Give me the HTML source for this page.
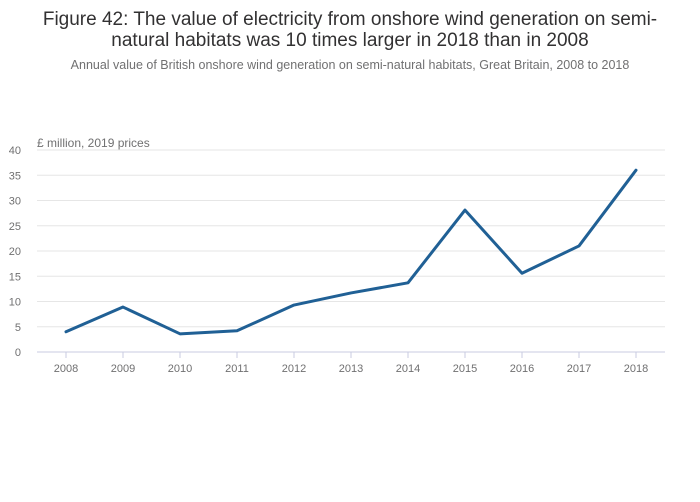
<!DOCTYPE html>
<html><head><meta charset="utf-8"><style>
body{margin:0;background:#fff;font-family:"Liberation Sans",sans-serif;}
svg{display:block}
</style></head><body>
<svg width="700" height="502">
<text x="350" y="25" text-anchor="middle" font-size="19" fill="#323132">Figure 42: The value of electricity from onshore wind generation on semi-</text>
<text x="350" y="46" text-anchor="middle" font-size="19" fill="#323132">natural habitats was 10 times larger in 2018 than in 2008</text>
<text x="350" y="69" text-anchor="middle" font-size="12.5" fill="#707071">Annual value of British onshore wind generation on semi-natural habitats, Great Britain, 2008 to 2018</text>
<text x="37" y="147" font-size="12" fill="#707071">£ million, 2019 prices</text>
<g id="grid"></g><g id="plot"></g>
</svg>
<script>
const years=["2008","2009","2010","2011","2012","2013","2014","2015","2016","2017","2018"];
const values=[4,8.9,3.6,4.2,9.3,11.7,13.7,28.1,15.6,21,36];
const yTicks=[0,5,10,15,20,25,30,35,40];
const NS="http://www.w3.org/2000/svg";
const x=i=>66+i*57, y=v=>352-v*5.05;
const g=document.getElementById('grid'), p=document.getElementById('plot');
function mk(tag,attrs,parent){const e=document.createElementNS(NS,tag);for(const k in attrs)e.setAttribute(k,attrs[k]);parent.appendChild(e);return e;}
yTicks.forEach(t=>{
 const l=mk('line',{x1:37,x2:665,y1:y(t),y2:y(t),stroke:t===0?'#c8cbe0':'#e6e6e6','stroke-width':1},g);
 
 
 const tx=mk('text',{x:21,y:y(t)+4,'text-anchor':'end','font-size':11,fill:'#707071'},g);
 tx.textContent=t;
 
 
});
years.forEach((yr,i)=>{
 const tk=mk('line',{x1:x(i),x2:x(i),y1:352,y2:358,stroke:'#c8cbe0'},g);
 
 
 const tx=mk('text',{x:x(i),y:372,'text-anchor':'middle','font-size':11,fill:'#707071'},g);
 tx.textContent=yr;
 
 
});
const path=mk('path',{d:values.map((v,i)=>(i?'L':'M')+x(i)+' '+y(v)).join(' '),fill:'none',stroke:'#206095','stroke-width':3,'stroke-linejoin':'round','stroke-linecap':'round'},p);


</script>
</body></html>
